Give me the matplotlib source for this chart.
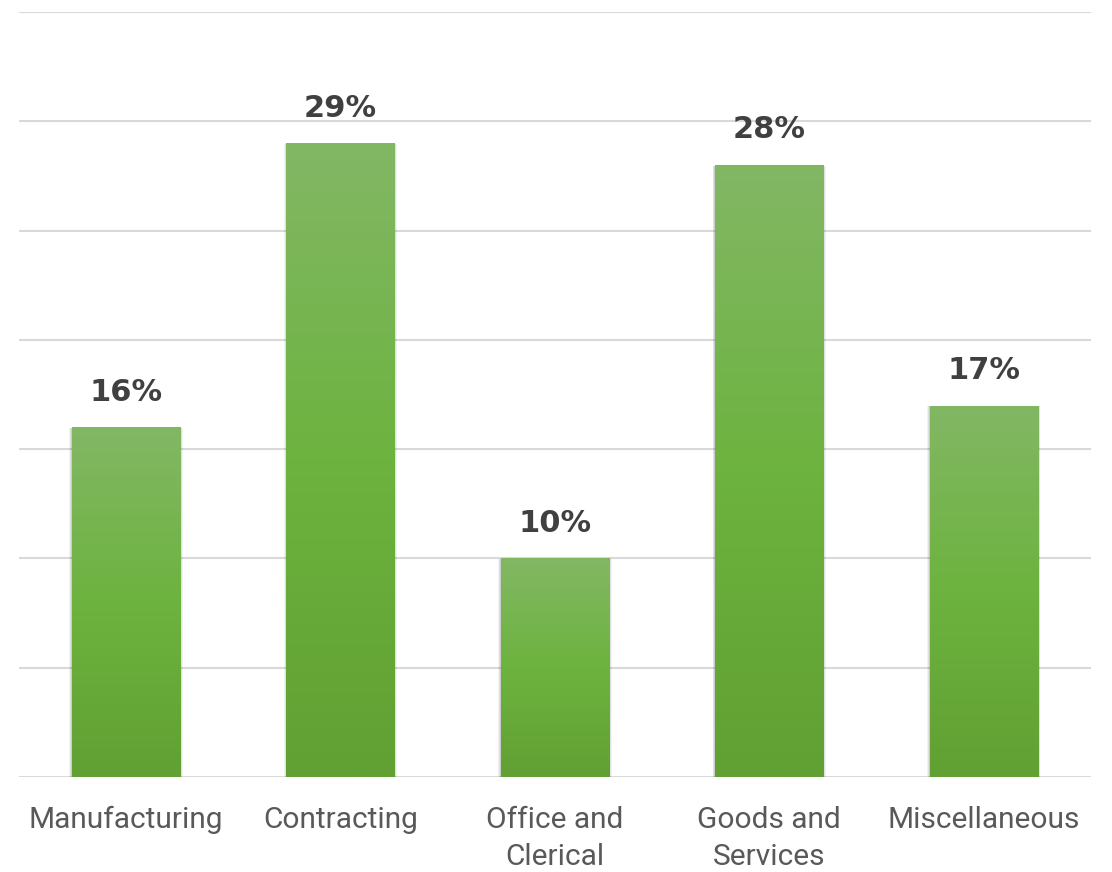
import matplotlib.pyplot as plt
import matplotlib.colors as mcolors
import numpy as np

categories = ["Manufacturing", "Contracting", "Office and\nClerical", "Goods and\nServices", "Miscellaneous"]
shares = [16, 29, 10, 28, 17]

fig = plt.figure(figsize=(11.12, 8.72), dpi=100)
ax = fig.add_axes([0.017, 0.109, 0.964, 0.877])

x = np.arange(len(categories))
bars = ax.bar(x, shares, width=0.505, color="none", zorder=3)

# vertical green gradient inside each bar, lighter at top
cmap = mcolors.LinearSegmentedColormap.from_list("grn", ["#61a033", "#6db33f", "#82b764"])
grad = np.linspace(0, 1, 256).reshape(-1, 1)
for b in bars:
    x0, y0 = b.get_x(), b.get_y()
    w, h = b.get_width(), b.get_height()
    # soft shadow to the sides
    for k, a in [(0.012, 0.05), (0.008, 0.07), (0.004, 0.09)]:
        ax.add_patch(plt.Rectangle((x0 - k, y0 - 0.12), w + 2 * k, h + 0.1,
                                   color="black", alpha=a, lw=0, zorder=2))
    im = ax.imshow(grad, extent=[x0, x0 + w, y0, y0 + h], origin="lower",
                   aspect="auto", cmap=cmap, zorder=4)
    im.set_clip_path(b)
    ax.text(b.get_x() + w / 2, h + 0.95, f"{h:.0f}%", ha="center", va="bottom",
            fontsize=22, fontweight="bold", family="DejaVu Sans", color="#404040",
            zorder=5)

ax.set_xlim(-0.5, len(categories) - 0.5)
ax.set_ylim(0, 35)
ax.set_yticks(np.arange(0, 36, 5))
ax.yaxis.grid(True, color="#d9d9d9", linewidth=1.5, zorder=0)
ax.set_axisbelow(True)
ax.tick_params(axis="y", left=False, labelleft=False)
ax.tick_params(axis="x", length=0, pad=21)
ax.set_xticks(x)
ax.set_xticklabels(categories, fontsize=21.5, family="Roboto", color="#595959",
                   linespacing=1.4)
for s in ax.spines.values():
    s.set_visible(False)

fig.savefig("out.png", dpi=100)
